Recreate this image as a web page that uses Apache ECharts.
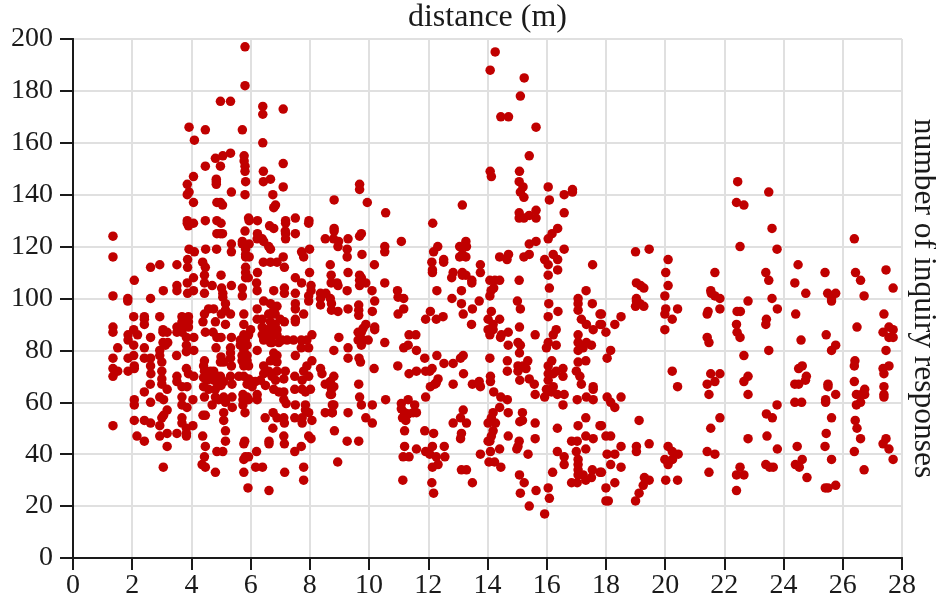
<!DOCTYPE html>
<html><head><meta charset="utf-8">
<style>html,body{margin:0;padding:0;background:#fff}#c{width:936px;height:598px}</style>
<script src="https://cdn.jsdelivr.net/npm/echarts@6/dist/echarts.min.js"></script>
</head><body><div id="c"></div>
<script>
const xTickLabels=[0,2,4,6,8,10,12,14,16,18,20,22,24,26,28];
const yTickLabels=[0,20,40,60,80,100,120,140,160,180,200];
const xTitle='distance (m)';
const yTitle='number of inquiry responses';
const pointsUnder3=[[1.35,124],[1.35,116],[2.07,107],[2.62,112],[2.93,113],[1.35,101],[1.85,100],[2.62,100],[1.85,99],[2.05,93],[2.41,93],[2.41,92],[2.41,90],[2.93,93],[1.35,89],[1.35,87],[2.05,88],[2.18,86],[1.86,86],[1.86,84],[2.62,85],[2.05,82],[2.41,81],[1.51,81],[2.93,80],[2.93,78],[2.05,78],[1.86,77],[2.41,77],[2.62,77],[2.62,74],[2.63,71],[1.35,77],[1.35,73],[1.35,70],[1.51,72],[2.07,74],[2.07,73],[1.86,72],[2.61,67],[2.41,64],[2.07,61],[2.07,59],[2.62,60],[2.93,62],[2.93,51],[2.07,53],[2.41,53],[2.62,52],[1.35,51],[2.16,47],[2.41,45],[2.93,47]];
const points3to4=[[3.51,113],[3.05,103],[3.51,105],[3.51,103],[3.87,115],[3.87,112],[3.86,106],[3.87,102],[3.92,119],[3.86,130],[3.86,129],[3.9,128],[3.86,140],[3.92,141],[3.86,144],[3.92,166],[3.04,88],[3.18,87],[3.04,87],[3.04,83],[3.2,83],[3.12,82],[3,75.5],[3,72],[3,69],[3,67],[3.18,65],[3.06,61],[3.18,57],[3.06,55],[3,54],[3.18,48],[3.18,43],[3.05,35],[3.51,48],[3.68,93],[3.9,93],[3.68,91],[3.9,91],[3.68,89],[3.9,89],[3.51,89],[3.51,87],[3.68,87],[3.83,85],[3.83,82],[3.83,79.5],[3.5,78],[3.83,73],[3.9,71],[3.51,70],[3.51,68],[3.68,66],[3.85,66],[3.68,62],[3.68,59],[3.85,58],[3.68,54],[3.68,52],[3.83,50],[3.83,48],[3.83,47]];
const points4to5=[[4.07,108],[4.07,103],[4.1,118],[4.48,119],[4.85,119],[4.38,114],[4.47,112],[4.44,109],[4.44,106],[4.44,102],[4.7,105],[4.86,125],[4.98,125],[4.07,129],[4.47,130],[4.86,130],[4.07,137],[4.86,137],[4.98,137],[4.07,147],[4.84,146],[4.84,144],[4.84,145],[4.47,151],[4.98,151],[4.81,154],[4.1,161],[4.47,165],[4.98,176],[4.08,85],[4.08,80],[4.08,70],[4.05,61],[4.05,51],[4.58,96],[4.75,96],[4.44,94],[4.39,91],[4.81,91],[4.47,87],[4.73,87],[4.86,85],[4.83,81],[4.98,75.5],[4.44,76],[4.41,74],[4.44,72],[4.64,72],[4.75,72],[4.86,70],[4.98,70],[4.64,69.5],[4.86,68],[4.41,69.5],[4.53,68.5],[4.75,68.5],[4.41,66],[4.58,65],[4.81,65],[4.44,62],[4.81,62],[4.92,61],[4.7,59],[4.39,55],[4.47,55],[4.38,47],[4.47,43],[4.44,39],[4.36,36],[4.47,35],[4.81,33],[4.86,41]];
const points5to6=[[5,109],[5.02,104],[5.06,102],[5.35,105],[5.72,104],[5.72,101],[5.35,121],[5.35,118],[5.05,125],[5,129],[5.05,136],[5.35,141],[5.06,155],[5.32,156],[5.32,176],[5.72,165],[5.81,197],[5.81,182],[5.78,155],[5.78,153],[5.81,151],[5.81,149],[5.83,145],[5.81,140],[5.81,126],[5.93,131],[5.95,130],[5.72,122],[5.72,121],[5.95,121],[5.83,119],[5.83,117],[5.95,116],[5.83,116],[5.83,112],[5.83,110],[5.83,108],[5.92,108],[5.06,100.5],[5.15,98],[5.15,90],[5.01,94],[5.15,95.5],[5.32,94],[5,85],[5.35,85],[5.32,81],[5.32,79],[5,77.5],[5.09,75.5],[5.32,77],[5.35,74],[5.09,68],[5,66.5],[5.09,62],[5.37,62],[5.15,60],[5.38,58],[5.32,70],[5.37,67],[5.09,56],[5.09,53],[5.15,49],[5.15,45],[5.06,41],[5.77,94],[5.77,90],[5.77,86],[5.93,86],[5.65,84],[5.82,84],[5.65,82],[5.77,80],[5.88,82],[5.71,78],[5.88,78],[5.71,76],[5.88,76],[5.77,74],[5.93,74],[5.6,70],[5.77,70],[5.93,69],[5.88,67],[5.74,63],[5.88,62],[5.74,61],[5.93,61],[5.74,59],[5.81,56],[5.77,44],[5.82,39],[5.93,39],[5.77,38],[5.77,33],[5.91,27],[5.8,45]];
const points6to7=[[6.41,174],[6.41,171],[6.41,160],[6.43,149],[6.67,146],[6.43,145],[6.75,140],[6.84,136],[6.78,135],[6.23,130],[6.64,128],[6.78,127],[6.23,125],[6.22,123],[6.39,123],[6.44,122],[6.61,120],[6.67,119],[6.43,114],[6.67,114],[6.89,114],[6.23,110],[6.2,106],[6.78,103],[6.22,103],[6.22,96],[6.22,92],[6.39,92],[6.39,89],[6.55,88],[6.39,86],[6.55,86],[6.22,80],[6.44,84],[6.67,83],[6.44,99],[6.67,98],[6.89,97],[6.78,95.5],[6.61,94],[6.83,94],[6.67,91],[6.83,90],[6.89,88],[6.67,88],[6.72,86],[6.89,86],[6.72,83],[6.95,83],[6.78,79],[6.89,78],[6.78,77],[6.67,76],[6.89,75.5],[6.44,74],[6.61,72],[6.44,71],[6.72,70],[6.89,72],[6.33,68.5],[6.5,66.5],[6.16,68],[6.05,68],[6.05,66],[6,88],[6.84,68.5],[6.22,63],[6.22,61],[6.78,65],[6.95,64],[6.49,54],[6.76,56],[6.89,54],[6.75,50],[6.62,45],[6.62,44],[6.2,41],[6.17,35],[6.4,35],[6.62,26]];
const points7to8=[[7.1,173],[7.1,152],[7.1,143],[7.1,116],[7.14,112],[7.14,104],[7.14,102],[7.51,102],[7.18,130],[7.18,129],[7.17,126],[7.18,125],[7.18,123],[7.51,125],[7.51,131],[7.97,130],[7.96,129],[7.72,118],[7.79,116],[7.99,119],[7.99,110],[7.51,108],[7.72,106],[7,92],[7.06,84],[7.23,84],[7.17,72],[7.12,69],[7.12,64],[7.12,61],[7.2,59.5],[7.12,54],[7.14,52],[7.12,47],[7.14,44],[7.15,33],[7.79,35],[7.79,30],[7.49,41],[7.71,43],[7.96,47],[7.51,98],[7.51,96],[7.79,94],[7.51,92],[7.51,91],[7.14,91],[7.45,84],[7.71,84],[7.9,84],[7.71,81],[7.96,81],[7.51,78],[7.9,74],[7.79,72],[7.96,70],[7.49,70],[7.49,65],[7.74,65],[7.85,64],[7.74,68.5],[7.51,59],[7.85,59],[7.85,57],[7.96,56],[7.74,54],[7.49,54],[7.74,52],[7.96,101],[7.96,99]];
const points8to10=[[8.04,105],[8.04,103],[8.36,102],[8.54,102],[8.69,100],[8.69,113],[8.72,109],[8.72,106],[8.92,106],[8.82,138],[8.82,127],[8.82,126],[8.52,123],[8.8,123],[8.95,120],[8.04,46],[8.07,86],[8.07,76],[8.02,65],[8.07,53],[8.36,100],[8.36,97.5],[8.36,73],[8.41,71],[8.81,70],[8.52,67],[8.69,68],[8.81,80],[8.98,85],[8.69,63],[8.81,59],[8.52,56],[8.75,56],[8.83,49],[8.94,37],[9.68,144],[9.68,142],[9.94,137],[9.29,123],[8.97,122],[9.26,119],[9.26,116],[9.68,124],[9.74,125],[9.76,117],[9.29,110],[9.68,109],[9.68,107],[9.74,108],[9.89,106],[9.68,105],[8.95,105],[9.26,103],[8.81,66],[8.73,65],[8.73,63],[8.76,59],[8.76,56],[9.26,45],[9.65,45],[9.29,56],[8.73,98],[8.73,95.5],[8.95,95],[9.29,96],[9.65,97.5],[9.65,95.5],[9.65,93.5],[9.29,81],[9.29,77],[9.66,77],[9.71,75.5],[9.65,67],[9.68,62],[9.74,59],[9.89,54],[9.63,87],[9.74,87],[9.89,90],[9.8,88.5],[9.63,84],[9.8,84],[9.74,82],[9.97,84]];
const points10to12=[[10.56,133],[10.18,113],[10.53,120],[10.53,118],[11.09,122],[10.1,103],[10.53,106],[10.96,103],[10.19,99],[10.11,95],[10.11,59],[10.11,52],[10.19,89],[10.19,88],[10.53,83],[10.17,73],[10.56,61],[10.97,74],[10.98,100.5],[11.17,100],[11.17,96],[10.98,94],[11.35,86],[11.58,86],[11.17,81],[11.32,82],[11.6,80],[11.35,71],[11.6,72],[11.09,59.5],[11.09,57.5],[11.32,61],[11.2,56],[11.32,55.5],[11.13,54],[11.24,53],[11.54,59],[11.6,56],[11.49,56],[11.2,49],[11.2,43],[11.6,42],[11.15,39],[11.35,39],[11.14,30],[11.91,92],[11.88,77],[11.91,72],[11.91,62],[11.88,49],[11.91,41]];
const points12to14=[[12.15,129],[13.15,136],[12.32,120],[12.18,118],[12.12,114],[12.52,115],[12.52,114],[12.14,111],[12.14,110],[12.29,103],[13.12,103],[12.8,100],[12.84,110],[12.79,108],[13.15,110],[13.15,109],[13.27,109],[13.06,120],[13.27,122],[13.29,120],[13.06,116],[13.15,117],[13.27,116],[13.76,113],[13.76,110],[13.47,107],[13.47,106],[12.07,95],[12.27,92],[12.5,93],[12.05,72],[12.13,73],[12.29,78],[12.53,75],[12.84,75],[12.07,66],[12.22,67],[12.33,69],[12.27,67.5],[12.84,67],[12.18,48],[12.14,43],[12.54,43],[12.05,40],[12.56,39],[12.27,39],[12.33,36],[12.14,35],[12.12,29],[12.18,25],[13.12,98],[13.18,94],[13.49,96],[13.72,99],[13.46,90],[13.18,78],[13.09,77],[13.19,71],[13.49,67],[13.72,68],[13.76,66],[13.18,57],[13.09,54],[13.29,52],[12.84,52],[13.12,48],[13.09,46],[13.76,40],[13.12,34],[13.29,34],[13.49,29]];
const points14to16=[[14.08,107],[14.25,107],[14.41,107],[14.21,104],[14.12,103],[14.08,101],[14.09,188],[14.26,195],[15.24,185],[15.11,178],[14.45,170],[14.71,170],[15.64,166],[15.41,155],[14.09,149],[14.13,147],[15.08,149],[15.07,145],[15.2,143],[15.11,141],[15.23,139],[15.07,133],[15.07,131],[15.23,131],[15.41,132],[15.64,134],[15.64,131],[15.41,121],[15.64,122],[15.93,115],[15.23,116],[15.41,117],[14.41,116],[14.66,115],[14.71,117],[15.07,107],[14.13,95],[14.02,92],[14.19,90],[14.02,88],[14.19,88],[14.41,92],[14.08,86],[14.47,86],[14.7,87],[14.44,85],[14.7,82],[14.08,77],[14.1,70],[14.1,68],[14.21,64],[14.45,62],[14.67,61],[14.41,58],[14.19,56],[14.13,54],[14.02,52],[14.27,52],[14.19,49],[14.13,47],[14.08,45],[14.02,45],[14.1,41],[14.41,42],[14.05,37],[14.24,37],[14.45,35],[14.7,56],[14.7,47],[15.01,99],[15.11,96],[15.08,89],[15.61,86],[15.03,83],[15.11,82],[15.08,79],[14.67,76],[14.67,72],[15.03,74],[15.03,72],[15.09,68.5],[15.36,76],[15.3,73],[15.41,69],[15.58,67],[15.2,74],[15.61,63],[15.18,56],[15.09,52.5],[15.18,53],[15.61,52],[15.61,46],[15.07,45],[15.03,43],[14.99,42],[15.37,40],[15.08,32],[15.24,29],[15.11,25],[15.41,20],[15.64,26],[15.93,17],[15.99,81],[15.99,65],[15.93,62]];
const points16to18=[[16.05,143],[16.09,138],[16.59,140],[16.87,142],[16.87,141],[16.59,133],[16.37,127],[16.18,125],[16.05,123],[16.59,119],[16.22,117],[16.37,115],[16.05,113],[16.37,111],[16.05,109],[16.09,104],[17.33,103],[17.06,100],[17.55,113],[16.05,27],[16.09,23],[16.2,33],[16.07,98],[16.05,93],[16.38,95],[16.32,88],[16.22,86],[16.05,83],[16.32,82],[16.17,76],[16.05,74],[16.32,72],[16.05,71],[16.55,73],[16.22,71],[16.55,70],[16.05,68.5],[16.22,66],[16.16,64],[16.36,63],[16.59,63],[16.55,59],[16.36,50],[16.36,41],[16.59,39],[16.59,36],[17.06,98],[17.06,95.5],[17.17,92],[17.34,90],[17.57,88],[17.54,98],[17.8,94],[17.8,90],[17.06,86],[17.06,83],[17.06,80],[17.34,83],[17.51,82],[17.23,81],[17.06,75.5],[17,72],[17.12,70],[17.17,67],[17.32,76],[17.57,66],[17.57,65],[17.34,62],[17.57,61],[17.03,61],[17.32,54],[17.06,51],[17.8,51],[17.32,47],[17.57,46],[16.84,45],[17.03,45],[17.32,42],[17,41],[17.06,38],[17.06,36],[17.06,34],[17.06,32],[17.23,32],[16.84,29],[17.03,29],[17.32,30],[17.51,31],[17.54,34],[17.8,33],[17.85,94],[17.85,90],[17.85,51],[17.85,33]];
const points18to22=[[18,87],[18.3,90],[18.51,93],[18.16,80],[18.04,77],[18.04,62],[18.16,60],[18.3,58],[18.51,62],[18,47],[18.16,47],[18.04,40],[18.3,40],[18.51,43],[18.16,36],[18.51,35],[18.3,29],[18,27],[18,22],[18.08,22],[19,22],[19.12,25],[19.26,28],[19.3,31],[19.46,30],[19.03,43],[19.03,41],[19.46,44],[19.12,53],[19,97],[19.03,99],[19.15,98],[19.28,97],[19,118],[19.46,119],[19.03,106],[19.17,105],[19.28,104],[19.03,100],[20.1,115],[20.02,110],[20.1,105],[19.99,101],[20.02,96],[19.99,94],[20.42,96],[20.24,92],[19.99,88],[20.24,72],[20.42,66],[20.1,43],[20.24,41],[20.44,40],[19.99,38],[20.1,36],[20.25,38],[20.02,30],[20.42,30],[21.68,110],[21.54,103],[21.56,102],[21.68,101],[21.85,100],[21.85,96],[21.45,95],[21.42,94],[21.42,85],[21.48,83],[21.54,71],[21.85,71],[21.68,68],[21.42,67],[21.48,63],[21.85,54],[21.54,50],[21.68,40],[21.42,41],[21.48,33]];
const points22to28=[[22.45,145],[22.41,137],[22.66,136],[22.53,120],[22.8,99],[22.43,95],[22.54,95],[22.41,90],[22.43,87],[22.53,85],[22.66,78],[22.8,70],[22.66,68],[22.8,63],[22.8,46],[22.53,35],[22.41,32],[22.66,32],[22.41,26],[23.5,141],[23.61,127],[23.78,119],[23.4,110],[23.5,107],[23.61,100],[23.79,96],[23.42,92],[23.4,90],[23.5,80],[23.78,59],[23.42,55.5],[23.62,54],[23.44,47],[23.79,42],[23.4,36],[23.53,35],[23.65,35],[24.49,113],[24.38,106],[24.75,102],[24.41,94],[24.59,84],[24.51,73],[24.63,74],[24.77,70],[24.74,68.5],[24.38,67],[24.51,67],[24.38,60],[24.61,60],[24.46,43],[24.63,38],[24.4,36],[24.53,35],[24.79,31],[25.4,110],[25.49,102],[25.76,102],[25.62,100],[25.62,99],[25.44,86],[25.76,82],[25.62,80],[25.5,67],[25.5,66],[25.76,63],[25.42,61],[25.42,60],[25.62,54],[25.44,48],[25.4,43],[25.62,38],[25.76,28],[25.5,27],[25.41,27],[26.39,123],[26.43,110],[26.6,107],[26.72,101],[26.48,89],[26.41,76],[26.39,74],[26.39,68],[26.74,65],[26.46,63],[26.63,63],[26.74,63],[26.46,59],[26.6,60],[26.42,53],[26.48,50],[26.6,46],[26.39,41],[26.72,34],[27.46,111],[27.7,104],[27.39,94],[27.56,89],[27.36,87],[27.7,88],[27.56,85],[27.7,85],[27.46,80],[27.56,74],[27.36,73],[27.39,71],[27.39,66],[27.39,63],[27.39,62],[27.46,46],[27.36,44],[27.56,42],[27.7,38]];
const data=[].concat(pointsUnder3,points3to4,points4to5,points5to6,points6to7,points7to8,points8to10,points10to12,points12to14,points14to16,points16to18,points18to22,points22to28);
const font='"Liberation Serif"',ink='#1a1a1a',grey='#e0e0e0';
const chart=echarts.init(document.getElementById('c'),null,{renderer:'canvas'});
chart.setOption({
 animation:false,backgroundColor:'#fff',
 grid:{left:73,right:34,top:39,bottom:40,containLabel:false,outerBoundsMode:'none'},
 xAxis:[{type:'value',min:0,max:28,interval:2,position:'bottom',
   axisLine:{show:true,onZero:false,lineStyle:{color:ink,width:2}},
   axisTick:{show:true,length:12,lineStyle:{color:ink,width:2}},
   axisLabel:{show:true,margin:14,hideOverlap:false,fontFamily:font,fontSize:28,color:ink,formatter:(v)=>xTickLabels.includes(v)?String(v):''},
   splitLine:{show:true,lineStyle:{color:grey,width:2}}},
  {type:'value',min:0,max:28,interval:28,position:'top',name:xTitle,nameLocation:'middle',nameGap:5,
   nameTextStyle:{fontFamily:font,fontSize:32,color:ink},
   axisLine:{show:true,lineStyle:{color:ink,width:2}},axisTick:{show:false},axisLabel:{show:false},splitLine:{show:false}}],
 yAxis:[{type:'value',min:0,max:200,interval:20,position:'left',
   axisLine:{show:true,onZero:false,lineStyle:{color:ink,width:2}},
   axisTick:{show:true,length:13,lineStyle:{color:ink,width:2}},
   axisLabel:{show:true,margin:20,fontFamily:font,fontSize:28,color:ink,formatter:(v)=>yTickLabels.includes(v)?String(v):''},
   splitLine:{show:true,lineStyle:{color:grey,width:2}}},
  {type:'value',min:0,max:200,interval:200,position:'right',name:yTitle,nameLocation:'middle',nameGap:5,nameRotate:-90,
   nameTextStyle:{fontFamily:font,fontSize:31.5,color:ink},
   axisLine:{show:true,lineStyle:{color:ink,width:2}},axisTick:{show:false},axisLabel:{show:false},splitLine:{show:false}}],
 series:[{type:'scatter',data:data,symbol:'circle',symbolSize:9.5,itemStyle:{color:'#c00000',opacity:1},silent:true,clip:false,z:3}]
});
</script></body></html>
